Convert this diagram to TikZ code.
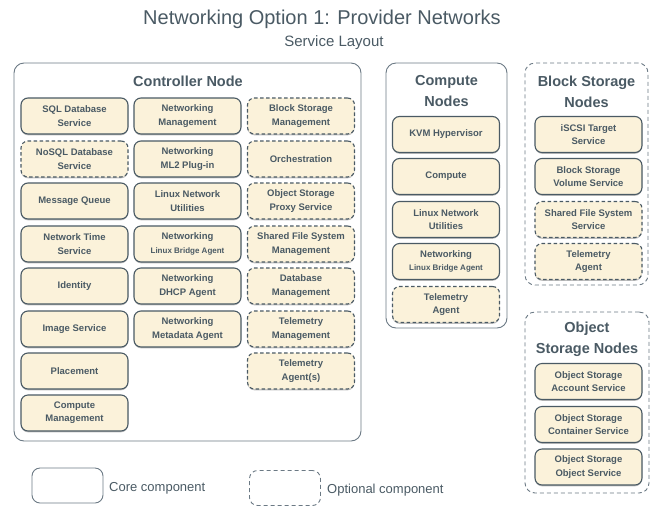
\documentclass[tikz,border=0pt]{standalone}
\usepackage{fontspec}
\setmainfont{Liberation Sans}
\usepackage{tikz}
\usetikzlibrary{positioning,shadows}
\usepackage{xcolor}
\definecolor{slate}{HTML}{4A5A64}
\definecolor{frame}{HTML}{6B7984}
\definecolor{cream}{HTML}{FBF2DA}

\begin{document}
\begin{tikzpicture}[x=1pt,y=-1pt,
    svc/.style={rectangle,rounded corners=7pt,draw=slate,line width=1.1pt,fill=cream,minimum width=107pt,minimum height=36pt,align=center,inner sep=1pt,text=slate,font=\fontsize{9.5}{13.3}\selectfont\bfseries,drop shadow={shadow xshift=0pt,shadow yshift=-1.3pt,fill=black,opacity=0.25}},
    opt/.style={svc,dash pattern=on 3.5pt off 2.5pt},
    grp/.style={rectangle,rounded corners=10pt,draw=frame,line width=0.9pt,fill=white,inner sep=0pt},
    optgrp/.style={grp,dash pattern=on 4pt off 3pt},
    head/.style={align=center,text=slate,font=\fontsize{14.5}{21}\selectfont\bfseries},
    key/.style={rectangle,rounded corners=8pt,draw=frame,line width=0.9pt,minimum width=71pt,minimum height=35pt},
    note/.style={right,text=slate,font=\fontsize{13}{15}\selectfont,inner sep=0pt}]

\useasboundingbox (0,0) rectangle (669,520);

% Titre
\node[text=slate,font=\fontsize{20}{24}\selectfont] (title) at (322,19) {Networking Option 1: Provider Networks};
\node[text=slate,font=\fontsize{15}{18}\selectfont] (subtitle) at (334,43) {Service Layout};

% Groupes
\node[grp,minimum width=347pt,minimum height=378pt] (ctrl) at (187.5,252) {};
\node[grp,minimum width=121pt,minimum height=265pt] (comp) at (446.5,195.5) {};
\node[optgrp,minimum width=123pt,minimum height=222pt] (blk) at (586.5,174) {};
\node[optgrp,minimum width=124pt,minimum height=181pt] (obj) at (587,402.5) {};

\node[head] (ctrlhead) at (188,81) {Controller Node};
\node[head] (comphead) at (446.5,91.5) {Compute\\Nodes};
\node[head] (blkhead) at (586.5,91.5) {Block Storage\\Nodes};
\node[head] (objhead) at (587,339) {Object\\Storage Nodes};

% Controller, colonne 1
\node[svc] (sql) at (74.5,116) {SQL Database\\Service};
\node[opt] (nosql) at (74.5,159) {NoSQL Database\\Service};
\node[svc] (mq) at (74.5,201) {Message Queue};
\node[svc] (ntp) at (74.5,244) {Network Time\\Service};
\node[svc] (ident) at (74.5,286) {Identity};
\node[svc] (image) at (74.5,329) {Image Service};
\node[svc] (place) at (74.5,371) {Placement};
\node[svc] (compmgmt) at (74.5,413) {Compute\\Management};

% Controller, colonne 2
\node[svc] (netmgmt) at (187.5,116) {Networking\\Management};
\node[svc] (ml2) at (187.5,159) {Networking\\ML2 Plug-in};
\node[svc] (netutil) at (187.5,201) {Linux Network\\Utilities};
\node[svc] (bridge) at (187.5,244) {Networking\\{\fontsize{8}{10}\selectfont Linux Bridge Agent}};
\node[svc] (dhcp) at (187.5,286) {Networking\\DHCP Agent};
\node[svc] (meta) at (187.5,329) {Networking\\Metadata Agent};

% Controller, colonne 3
\node[opt] (blkmgmt) at (301,116) {Block Storage\\Management};
\node[opt] (orch) at (301,159) {Orchestration};
\node[opt] (proxy) at (301,201) {Object Storage\\Proxy Service};
\node[opt] (sharemgmt) at (301,244) {Shared File System\\Management};
\node[opt] (dbmgmt) at (301,286) {Database\\Management};
\node[opt] (telmgmt) at (301,329) {Telemetry\\Management};
\node[opt] (telagents) at (301,371) {Telemetry\\Agent(s)};

% Compute
\node[svc] (kvm) at (446,134.5) {KVM Hypervisor};
\node[svc] (nova) at (446,176.5) {Compute};
\node[svc] (cnetutil) at (446,219.5) {Linux Network\\Utilities};
\node[svc] (cbridge) at (446,261.5) {Networking\\{\fontsize{8}{10}\selectfont Linux Bridge Agent}};
\node[opt] (ctel) at (446,304.5) {Telemetry\\Agent};

% Block Storage
\node[svc] (iscsi) at (588.5,134.5) {iSCSI Target\\Service};
\node[svc] (volume) at (588.5,176.5) {Block Storage\\Volume Service};
\node[opt] (share) at (588.5,219.5) {Shared File System\\Service};
\node[opt] (btel) at (588.5,261.5) {Telemetry\\Agent};

% Object Storage
\node[svc] (account) at (588.5,381.5) {Object Storage\\Account Service};
\node[svc] (container) at (588.5,424.5) {Object Storage\\Container Service};
\node[svc] (object) at (588.5,467) {Object Storage\\Object Service};

% Legende
\node[key] (corekey) at (67.5,485.5) {};
\node[note] (corenote) at (109,488) {Core component};
\node[key,dash pattern=on 4pt off 3pt] (optkey) at (285,488) {};
\node[note] (optnote) at (327,490) {Optional component};

\end{tikzpicture}
\end{document}
